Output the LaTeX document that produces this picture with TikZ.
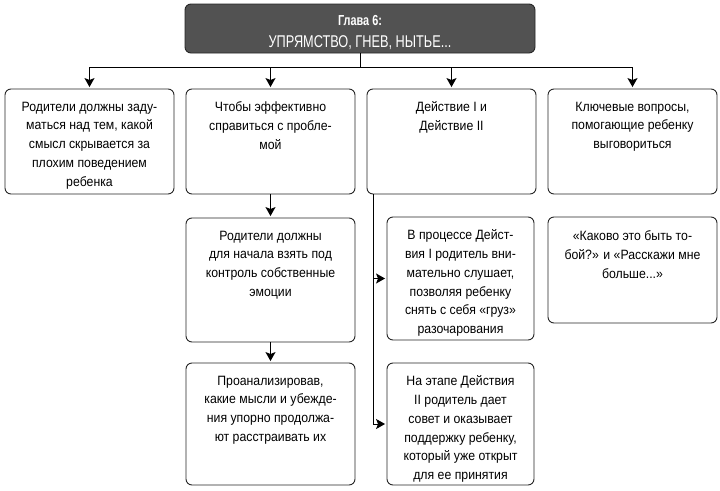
\documentclass[tikz,border=0pt]{standalone}
\usepackage{fontspec}
\setmainfont[FakeStretch=0.91]{Liberation Sans}
\newfontfamily\headfont[FakeStretch=0.75, BoldFont={Liberation Sans Bold}]{Liberation Sans}
\usetikzlibrary{positioning,arrows.meta}
\tikzset{
  card/.style={draw=black!85, line width=0.9pt, rounded corners=6pt, fill=white},
  head/.style={card, fill=black!68},
  headtxt/.style={text=white, inner sep=0pt, anchor=base},
  txt/.style={align=center, inner sep=0pt, font=\fontsize{13.5}{18.8}\selectfont},
  arr/.style={-{Stealth[length=9pt,width=10pt,inset=2pt]}, line width=0.9pt, shorten >=1.5pt},
}
\begin{document}
\begin{tikzpicture}[x=1pt, y=-1pt]
      \useasboundingbox (0,0) rectangle (720,490);
      \def\ws{13pt};   % gap from box top to text
      %
      \node[head, minimum width=350pt, minimum height=49pt] (title) at (360,28.5) {};
      \node[headtxt, font=\headfont\fontsize{14.5}{16}\selectfont\bfseries] (title1) at (360,25) {Глава 6:};
      \node[headtxt, font=\headfont\fontsize{17}{20}\selectfont] (title2) at (360,47) {УПРЯМСТВО, ГНЕВ, НЫТЬЕ...};
      %
      % first row
      \node[card, minimum width=169pt, minimum height=105pt] (b1) at (89.5,141.5) {};
      \node[txt, below=\ws of b1.north] (t1) {Родители должны заду-\\маться над тем, какой\\смысл скрывается за\\плохим поведением\\ребенка};
      \node[card, minimum width=169pt, minimum height=105pt] (b2) at (270.5,141.5) {};
      \node[txt, below=\ws of b2.north] (t2) {Чтобы эффективно\\справиться с пробле-\\мой};
      \node[card, minimum width=169pt, minimum height=105pt] (b3) at (451.5,141.5) {};
      \node[txt, below=\ws of b3.north] (t3) {Действие I и\\Действие II};
      \node[card, minimum width=169pt, minimum height=105pt] (b4) at (632.5,141.5) {};
      \node[txt, below=\ws of b4.north] (t4) {Ключевые вопросы,\\помогающие ребенку\\выговориться};
      %
      % second column
      \node[card, minimum width=169pt, minimum height=124pt] (b5) at (270.5,280) {};
      \node[txt, below=\ws of b5.north] (t5) {Родители должны\\для начала взять под\\контроль собственные\\эмоции};
      \node[card, minimum width=169pt, minimum height=122pt] (b7) at (270.5,424) {};
      \node[txt, below=\ws of b7.north] (t7) {Проанализировав,\\какие мысли и убежде-\\ния упорно продолжа-\\ют расстраивать их};
      %
      % third column
      \node[card, minimum width=147pt, minimum height=123pt] (b6) at (460.5,278.5) {};
      \node[txt, below=\ws of b6.north] (t6) {В процессе Дейст-\\вия I родитель вни-\\мательно слушает,\\позволяя ребенку\\снять с себя «груз»\\разочарования};
      \node[card, minimum width=147pt, minimum height=122pt] (b8) at (460.5,424) {};
      \node[txt, below=\ws of b8.north] (t8) {На этапе Действия\\II родитель дает\\совет и оказывает\\поддержку ребенку,\\который уже открыт\\для ее принятия};
      %
      % fourth column
      \node[card, minimum width=169pt, minimum height=106pt] (b9) at (632.5,270) {};
      \node[txt, below=14pt of b9.north] (t9) {«Каково это быть то-\\бой?» и «Расскажи мне\\больше...»};
      %
      \coordinate (hub) at (360,67);
      \coordinate (rail) at (373,194);
      \draw[line width=0.9pt] (title.south) -- (hub);
      \foreach \b in {b1,b2,b3,b4}
        \draw[arr] (hub) -| (\b.north);
      \draw[arr] (b2) -- (b5);
      \draw[arr] (b5) -- (b7);
      \draw[arr] (rail) |- (b6);
      \draw[arr] (rail) |- (b8);
      %
    \end{tikzpicture}
\end{document}
